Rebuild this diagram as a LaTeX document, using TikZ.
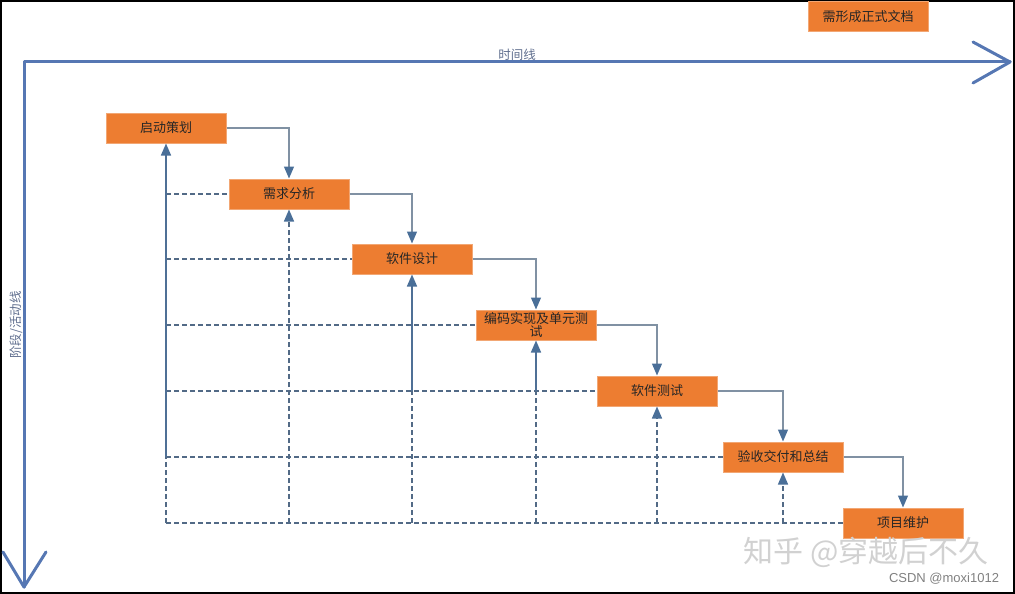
\documentclass[tikz,border=0pt]{standalone}
\usepackage{fontspec}
\newfontfamily\cjk{Noto Sans CJK SC}
\newfontfamily\latinsans{Liberation Sans}
\usetikzlibrary{arrows.meta}
\definecolor{stagefill}{HTML}{ED7D31}
\definecolor{stageedge}{HTML}{F2A774}
\definecolor{axisblue}{HTML}{5677B3}
\definecolor{labelblue}{HTML}{5F6E8E}
\definecolor{linkgrey}{HTML}{8091A3}
\definecolor{tipblue}{HTML}{4A6F98}
\definecolor{dashblue}{HTML}{526A86}
\definecolor{solidblue}{HTML}{4F7096}
\tikzset{
  stage/.style={rectangle, fill=stagefill, draw=stageedge, line width=1pt,
    minimum width=120pt, minimum height=30pt, inner sep=0pt,
    font=\cjk\fontsize{13}{15}\selectfont, text=black!85},
  axisline/.style={draw=axisblue, line width=3pt, line join=round, line cap=round},
  axislabel/.style={font=\cjk\fontsize{12.5}{15}\selectfont, text=labelblue, inner sep=1pt},
  link/.style={draw=linkgrey, line width=1.2pt, -{Triangle[width=10pt,length=12pt,color=tipblue]}},
  feedsolid/.style={draw=solidblue, line width=1.6pt, -{Triangle[width=10pt,length=12pt,color=tipblue]}},
  feeddash/.style={draw=dashblue, line width=1.4pt, dash pattern=on 5pt off 3pt},
  feeddashup/.style={feeddash, -{Triangle[width=10pt,length=12pt,color=tipblue]}},
  watermark/.style={font=\cjk\fontsize{30}{30}\selectfont, text=black!18, inner sep=0pt},
  credit/.style={font=\latinsans\fontsize{13}{13}\selectfont, text=black!50, inner sep=0pt}
}
\begin{document}
\begin{tikzpicture}[x=1pt,y=-1pt]
\useasboundingbox (0,0) rectangle (1015,594);
\draw[line width=2pt] (1,1) rectangle (1014,593);

% axes
\coordinate (o) at (24,62);
\coordinate (xe) at (1010,62);
\coordinate (ye) at (24,587);
\coordinate (xa1) at (973,42);
\coordinate (xa2) at (973,83);
\coordinate (ya1) at (3,552);
\coordinate (ya2) at (46,552);
\draw[axisline] (ye) -- (o) -- (xe);
\draw[axisline] (xa1) -- (xe) -- (xa2);
\draw[axisline] (ya1) -- (ye) -- (ya2);
\node[axislabel] (tl) at (517,55) {时间线};
\node[axislabel, rotate=90] (vl) at (16,325) {阶段/活动线};

% stages
\node[stage] (doc) at (868,17) {需形成正式文档};
\node[stage] (s1) at (166,128) {启动策划};
\node[stage] (s2) at (289,194) {需求分析};
\node[stage] (s3) at (412,259) {软件设计};
\node[stage, align=center] (s4) at (536,325) {编码实现及单元测\\[-2pt]试};
\node[stage] (s5) at (657,391) {软件测试};
\node[stage] (s6) at (783,457) {验收交付和总结};
\node[stage] (s7) at (903,523) {项目维护};

% horizontal dashed feedback lines
\foreach \k in {2,...,7} {
  \draw[feeddash] (s1 |- s\k) -- (s\k.west);
}

% vertical feedback lines
\draw[feeddash] (s1 |- s7) -- (s1 |- s6);
\draw[feedsolid] (s1 |- s6) -- (s1.south);
\draw[feeddashup] (s2 |- s7) -- (s2.south);
\draw[feeddash] (s3 |- s7) -- (s3 |- s5);
\draw[feedsolid] (s3 |- s5) -- (s3.south);
\draw[feeddash] (s4 |- s7) -- (s4 |- s5);
\draw[feedsolid] (s4 |- s5) -- (s4.south);
\draw[feeddashup] (s5 |- s7) -- (s5.south);
\draw[feeddashup] (s6 |- s7) -- (s6.south);

% forward links
\draw[link] (s1.east) -| (s2.north);
\draw[link] (s2.east) -| (s3.north);
\draw[link] (s3.east) -| (s4.north);
\draw[link] (s4.east) -| (s5.north);
\draw[link] (s5.east) -| (s6.north);
\draw[link] (s6.east) -| (s7.north);

% watermarks
\node[watermark] (wm) at (866,552) {知乎 @穿越后不久};
\node[credit] (cr) at (944,579) {CSDN @moxi1012};
\end{tikzpicture}
\end{document}
